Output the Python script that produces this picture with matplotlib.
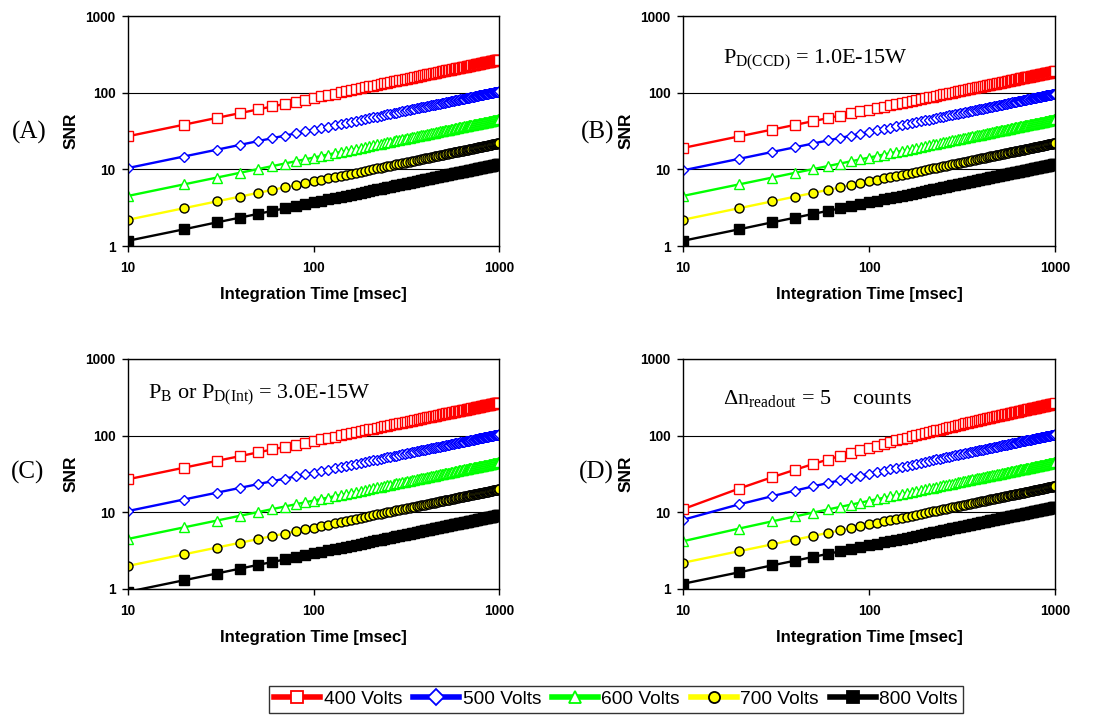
import numpy as np
import matplotlib
matplotlib.use('Agg')
import matplotlib.pyplot as plt
from matplotlib.ticker import NullLocator

# integration time grid [msec]
t_ms = np.arange(10, 1001, 10)

volt_labels = ['400 Volts', '500 Volts', '600 Volts', '700 Volts', '800 Volts']
panel_tags = ['(A)', '(B)', '(C)', '(D)']

# SNR curves, one value per integration time
snr_400_ac = [27.0, 38.2, 46.8, 54.0, 60.4, 66.1, 71.4, 76.4, 81.0, 85.4,
              89.6, 93.5, 97.4, 101.0, 104.6, 108.0, 111.3, 114.6, 117.7, 120.7,
              123.7, 126.6, 129.5, 132.3, 135.0, 137.7, 140.3, 142.9, 145.4, 147.9,
              150.3, 152.7, 155.1, 157.4, 159.7, 162.0, 164.2, 166.4, 168.6, 170.8,
              172.9, 175.0, 177.0, 179.1, 181.1, 183.1, 185.1, 187.1, 189.0, 190.9,
              192.8, 194.7, 196.6, 198.4, 200.2, 202.0, 203.9, 205.6, 207.4, 209.1,
              210.9, 212.6, 214.3, 216.0, 217.7, 219.3, 221.0, 222.6, 224.3, 225.9,
              227.5, 229.1, 230.7, 232.3, 233.8, 235.4, 236.9, 238.5, 240.0, 241.5,
              243.0, 244.5, 246.0, 247.5, 248.9, 250.4, 251.8, 253.3, 254.7, 256.1,
              257.6, 259.0, 260.4, 261.8, 263.2, 264.5, 265.9, 267.3, 268.7, 270.0]
snr_500_ac = [10.4, 14.7, 18.0, 20.8, 23.3, 25.5, 27.5, 29.4, 31.2, 32.9,
              34.5, 36.0, 37.5, 38.9, 40.3, 41.6, 42.9, 44.1, 45.3, 46.5,
              47.7, 48.8, 49.9, 50.9, 52.0, 53.0, 54.0, 55.0, 56.0, 57.0,
              57.9, 58.8, 59.7, 60.6, 61.5, 62.4, 63.3, 64.1, 64.9, 65.8,
              66.6, 67.4, 68.2, 69.0, 69.8, 70.5, 71.3, 72.1, 72.8, 73.5,
              74.3, 75.0, 75.7, 76.4, 77.1, 77.8, 78.5, 79.2, 79.9, 80.6,
              81.2, 81.9, 82.5, 83.2, 83.8, 84.5, 85.1, 85.8, 86.4, 87.0,
              87.6, 88.2, 88.9, 89.5, 90.1, 90.7, 91.3, 91.9, 92.4, 93.0,
              93.6, 94.2, 94.7, 95.3, 95.9, 96.4, 97.0, 97.6, 98.1, 98.7,
              99.2, 99.8, 100.3, 100.8, 101.4, 101.9, 102.4, 103.0, 103.5, 104.0]
snr_400_b = [19.0, 26.9, 32.9, 38.0, 42.5, 46.5, 50.3, 53.7, 57.0, 60.1,
             63.0, 65.8, 68.5, 71.1, 73.6, 76.0, 78.3, 80.6, 82.8, 85.0,
             87.1, 89.1, 91.1, 93.1, 95.0, 96.9, 98.7, 100.5, 102.3, 104.1,
             105.8, 107.5, 109.2, 110.8, 112.4, 114.0, 115.6, 117.1, 118.7, 120.2,
             121.7, 123.1, 124.6, 126.0, 127.5, 128.9, 130.3, 131.6, 133.0, 134.3,
             135.7, 137.0, 138.3, 139.6, 140.9, 142.2, 143.5, 144.7, 145.9, 147.2,
             148.4, 149.6, 150.8, 152.0, 153.2, 154.4, 155.5, 156.7, 157.8, 159.0,
             160.1, 161.2, 162.3, 163.4, 164.5, 165.6, 166.7, 167.8, 168.9, 169.9,
             171.0, 172.0, 173.1, 174.1, 175.2, 176.2, 177.2, 178.2, 179.2, 180.3,
             181.2, 182.2, 183.2, 184.2, 185.2, 186.2, 187.1, 188.1, 189.1, 190.0]
snr_500_b = [9.7, 13.7, 16.8, 19.4, 21.7, 23.8, 25.7, 27.4, 29.1, 30.7,
             32.2, 33.6, 35.0, 36.3, 37.6, 38.8, 40.0, 41.2, 42.3, 43.4,
             44.5, 45.5, 46.5, 47.5, 48.5, 49.5, 50.4, 51.3, 52.2, 53.1,
             54.0, 54.9, 55.7, 56.6, 57.4, 58.2, 59.0, 59.8, 60.6, 61.4,
             62.1, 62.9, 63.6, 64.3, 65.1, 65.8, 66.5, 67.2, 67.9, 68.6,
             69.3, 69.9, 70.6, 71.3, 71.9, 72.6, 73.2, 73.9, 74.5, 75.1,
             75.8, 76.4, 77.0, 77.6, 78.2, 78.8, 79.4, 80.0, 80.6, 81.2,
             81.7, 82.3, 82.9, 83.4, 84.0, 84.6, 85.1, 85.7, 86.2, 86.8,
             87.3, 87.8, 88.4, 88.9, 89.4, 90.0, 90.5, 91.0, 91.5, 92.0,
             92.5, 93.0, 93.5, 94.0, 94.5, 95.0, 95.5, 96.0, 96.5, 97.0]
snr_400_d = [11.0, 20.4, 28.6, 35.9, 42.6, 48.8, 54.5, 59.9, 64.9, 69.7,
             74.2, 78.5, 82.7, 86.7, 90.5, 94.2, 97.8, 101.3, 104.7, 107.9,
             111.1, 114.3, 117.3, 120.3, 123.2, 126.0, 128.8, 131.6, 134.2, 136.9,
             139.5, 142.0, 144.5, 147.0, 149.4, 151.8, 154.1, 156.4, 158.7, 161.0,
             163.2, 165.4, 167.5, 169.7, 171.8, 173.9, 175.9, 178.0, 180.0, 182.0,
             184.0, 185.9, 187.9, 189.8, 191.7, 193.6, 195.4, 197.3, 199.1, 200.9,
             202.7, 204.5, 206.2, 208.0, 209.7, 211.4, 213.2, 214.9, 216.5, 218.2,
             219.9, 221.5, 223.1, 224.8, 226.4, 228.0, 229.6, 231.1, 232.7, 234.3,
             235.8, 237.3, 238.9, 240.4, 241.9, 243.4, 244.9, 246.3, 247.8, 249.3,
             250.7, 252.2, 253.6, 255.0, 256.5, 257.9, 259.3, 260.7, 262.1, 263.5]
snr_500_d = [8.0, 12.7, 16.2, 19.2, 21.8, 24.1, 26.2, 28.2, 30.1, 31.8,
             33.4, 35.0, 36.5, 38.0, 39.4, 40.7, 42.0, 43.3, 44.5, 45.7,
             46.9, 48.0, 49.1, 50.2, 51.3, 52.3, 53.3, 54.3, 55.3, 56.3,
             57.2, 58.2, 59.1, 60.0, 60.9, 61.8, 62.6, 63.5, 64.3, 65.2,
             66.0, 66.8, 67.6, 68.4, 69.2, 70.0, 70.7, 71.5, 72.2, 73.0,
             73.7, 74.5, 75.2, 75.9, 76.6, 77.3, 78.0, 78.7, 79.4, 80.0,
             80.7, 81.4, 82.0, 82.7, 83.3, 84.0, 84.6, 85.3, 85.9, 86.5,
             87.1, 87.8, 88.4, 89.0, 89.6, 90.2, 90.8, 91.4, 92.0, 92.6,
             93.1, 93.7, 94.3, 94.9, 95.4, 96.0, 96.6, 97.1, 97.7, 98.2,
             98.8, 99.3, 99.9, 100.4, 100.9, 101.5, 102.0, 102.5, 103.0, 103.6]
snr_600_abc = [4.50, 6.36, 7.79, 9.00, 10.06, 11.02, 11.91, 12.73, 13.50, 14.23,
               14.93, 15.59, 16.23, 16.84, 17.43, 18.00, 18.55, 19.09, 19.62, 20.12,
               20.62, 21.11, 21.58, 22.05, 22.50, 22.95, 23.38, 23.81, 24.23, 24.65,
               25.06, 25.46, 25.85, 26.24, 26.62, 27.00, 27.37, 27.74, 28.10, 28.46,
               28.81, 29.16, 29.51, 29.85, 30.19, 30.52, 30.85, 31.18, 31.50, 31.82,
               32.13, 32.45, 32.76, 33.07, 33.37, 33.67, 33.98, 34.27, 34.56, 34.86,
               35.15, 35.43, 35.72, 36.00, 36.28, 36.56, 36.83, 37.11, 37.38, 37.65,
               37.92, 38.18, 38.45, 38.71, 38.97, 39.23, 39.49, 39.74, 40.00, 40.25,
               40.50, 40.75, 41.00, 41.24, 41.49, 41.73, 41.97, 42.21, 42.45, 42.69,
               42.93, 43.16, 43.40, 43.63, 43.86, 44.09, 44.32, 44.55, 44.77, 45.00]
snr_600_d = [4.20, 6.14, 7.61, 8.84, 9.92, 10.89, 11.78, 12.61, 13.39, 14.13,
             14.83, 15.49, 16.14, 16.75, 17.34, 17.92, 18.47, 19.01, 19.54, 20.05,
             20.55, 21.04, 21.51, 21.98, 22.43, 22.88, 23.32, 23.75, 24.17, 24.59,
             25.00, 25.40, 25.79, 26.18, 26.56, 26.94, 27.32, 27.69, 28.05, 28.41,
             28.76, 29.11, 29.46, 29.80, 30.14, 30.47, 30.80, 31.13, 31.45, 31.77,
             32.1, 32.4, 32.7, 33.0, 33.3, 33.6, 33.9, 34.2, 34.5, 34.8,
             35.1, 35.4, 35.7, 36.0, 36.2, 36.5, 36.8, 37.1, 37.3, 37.6,
             37.9, 38.1, 38.4, 38.7, 38.9, 39.2, 39.5, 39.7, 40.0, 40.2,
             40.5, 40.7, 41.0, 41.2, 41.5, 41.7, 41.9, 42.2, 42.4, 42.7,
             42.9, 43.1, 43.4, 43.6, 43.8, 44.1, 44.3, 44.5, 44.7, 45.0]
snr_700_abd = [2.20, 3.11, 3.81, 4.40, 4.92, 5.39, 5.82, 6.22, 6.60, 6.96,
               7.30, 7.62, 7.93, 8.23, 8.52, 8.80, 9.07, 9.33, 9.59, 9.84,
               10.08, 10.32, 10.55, 10.78, 11.00, 11.22, 11.43, 11.64, 11.85, 12.05,
               12.25, 12.45, 12.64, 12.83, 13.02, 13.20, 13.38, 13.56, 13.74, 13.91,
               14.09, 14.26, 14.43, 14.59, 14.76, 14.92, 15.08, 15.24, 15.40, 15.56,
               15.71, 15.86, 16.02, 16.17, 16.32, 16.46, 16.61, 16.76, 16.90, 17.04,
               17.18, 17.32, 17.46, 17.60, 17.74, 17.87, 18.01, 18.14, 18.28, 18.41,
               18.54, 18.67, 18.80, 18.92, 19.05, 19.18, 19.31, 19.43, 19.55, 19.68,
               19.80, 19.92, 20.04, 20.16, 20.28, 20.40, 20.52, 20.64, 20.75, 20.87,
               20.99, 21.10, 21.22, 21.33, 21.44, 21.56, 21.67, 21.78, 21.89, 22.00]
snr_700_c = [2.00, 2.83, 3.46, 4.00, 4.47, 4.90, 5.29, 5.66, 6.00, 6.32,
             6.63, 6.93, 7.21, 7.48, 7.75, 8.00, 8.25, 8.49, 8.72, 8.94,
             9.17, 9.38, 9.59, 9.80, 10.00, 10.20, 10.39, 10.58, 10.77, 10.95,
             11.14, 11.31, 11.49, 11.66, 11.83, 12.00, 12.17, 12.33, 12.49, 12.65,
             12.81, 12.96, 13.11, 13.27, 13.42, 13.56, 13.71, 13.86, 14.00, 14.14,
             14.28, 14.42, 14.56, 14.70, 14.83, 14.97, 15.10, 15.23, 15.36, 15.49,
             15.62, 15.75, 15.87, 16.00, 16.12, 16.25, 16.37, 16.49, 16.61, 16.73,
             16.85, 16.97, 17.09, 17.20, 17.32, 17.44, 17.55, 17.66, 17.78, 17.89,
             18.00, 18.11, 18.22, 18.33, 18.44, 18.55, 18.65, 18.76, 18.87, 18.97,
             19.08, 19.18, 19.29, 19.39, 19.49, 19.60, 19.70, 19.80, 19.90, 20.00]
snr_800_abd = [1.17, 1.65, 2.03, 2.34, 2.62, 2.87, 3.10, 3.31, 3.51, 3.70,
               3.88, 4.05, 4.22, 4.38, 4.53, 4.68, 4.82, 4.96, 5.10, 5.23,
               5.36, 5.49, 5.61, 5.73, 5.85, 5.97, 6.08, 6.19, 6.30, 6.41,
               6.51, 6.62, 6.72, 6.82, 6.92, 7.02, 7.12, 7.21, 7.31, 7.40,
               7.49, 7.58, 7.67, 7.76, 7.85, 7.94, 8.02, 8.11, 8.19, 8.27,
               8.36, 8.44, 8.52, 8.60, 8.68, 8.76, 8.83, 8.91, 8.99, 9.06,
               9.14, 9.21, 9.29, 9.36, 9.43, 9.51, 9.58, 9.65, 9.72, 9.79,
               9.86, 9.93, 10.00, 10.06, 10.13, 10.20, 10.27, 10.33, 10.40, 10.46,
               10.53, 10.59, 10.66, 10.72, 10.79, 10.85, 10.91, 10.98, 11.04, 11.10,
               11.16, 11.22, 11.28, 11.34, 11.40, 11.46, 11.52, 11.58, 11.64, 11.70]
snr_800_c = [0.92, 1.30, 1.59, 1.84, 2.06, 2.25, 2.43, 2.60, 2.76, 2.91,
             3.05, 3.19, 3.32, 3.44, 3.56, 3.68, 3.79, 3.90, 4.01, 4.11,
             4.22, 4.31, 4.41, 4.51, 4.60, 4.69, 4.78, 4.87, 4.95, 5.04,
             5.12, 5.20, 5.29, 5.36, 5.44, 5.52, 5.60, 5.67, 5.75, 5.82,
             5.89, 5.96, 6.03, 6.10, 6.17, 6.24, 6.31, 6.37, 6.44, 6.51,
             6.57, 6.63, 6.70, 6.76, 6.82, 6.88, 6.95, 7.01, 7.07, 7.13,
             7.19, 7.24, 7.30, 7.36, 7.42, 7.47, 7.53, 7.59, 7.64, 7.70,
             7.75, 7.81, 7.86, 7.91, 7.97, 8.02, 8.07, 8.13, 8.18, 8.23,
             8.28, 8.33, 8.38, 8.43, 8.48, 8.53, 8.58, 8.63, 8.68, 8.73,
             8.78, 8.82, 8.87, 8.92, 8.97, 9.01, 9.06, 9.11, 9.15, 9.20]

panel_series = [
    [snr_400_ac, snr_500_ac, snr_600_abc, snr_700_abd, snr_800_abd],
    [snr_400_b, snr_500_b, snr_600_abc, snr_700_abd, snr_800_abd],
    [snr_400_ac, snr_500_ac, snr_600_abc, snr_700_c, snr_800_c],
    [snr_400_d, snr_500_d, snr_600_d, snr_700_abd, snr_800_abd],
]
panel_notes = [
    None,
    r'P$_{\mathrm{D(CCD)}}$ = 1.0E-15W',
    r'P$_{\mathrm{B}}$ or P$_{\mathrm{D(Int)}}$ = 3.0E-15W',
    r'Δn$_{\mathrm{readout}}$ = 5    counts',
]

plt.rcParams['mathtext.fontset'] = 'custom'
plt.rcParams['mathtext.rm'] = 'Liberation Serif'
plt.rcParams['mathtext.it'] = 'Liberation Serif:italic'

styles = [
    dict(color='#ff0000', marker='s', ms=6.5, mfc='white', mec='#ff0000'),
    dict(color='#0000ff', marker='D', ms=5.2, mfc='white', mec='#0000ff'),
    dict(color='#00ff00', marker='^', ms=7, mfc='white', mec='#00ff00'),
    dict(color='#ffff00', marker='o', ms=6.5, mfc='#ffff00', mec='black'),
    dict(color='black', marker='s', ms=6.5, mfc='black', mec='black'),
]

W, H = 1099, 715
fig = plt.figure(figsize=(W / 100, H / 100), dpi=100)

# axes boxes in pixels: left, top, right, bottom
boxes = [(128, 16, 499, 246), (683, 16, 1055, 246),
         (128, 359, 499, 589), (683, 359, 1055, 589)]
tag_pos = [(29, 132), (598, 132), (28, 472), (596, 472)]
note_pos = [None, (0.108, 0.81), (0.054, 0.843), (0.108, 0.83)]

for i, (l, t, r, b) in enumerate(boxes):
    ax = fig.add_axes([l / W, 1 - b / H, (r - l) / W, (b - t) / H])
    for j, vals in enumerate(panel_series[i]):
        ax.plot(t_ms, vals, lw=1.7, mew=1.0, label=volt_labels[j], **styles[j])
    ax.set_xscale('log')
    ax.set_yscale('log')
    ax.set_xlim(10, 1000)
    ax.set_ylim(1, 1000)
    ax.set_xticks([10, 100, 1000])
    ax.set_xticklabels(['10', '100', '1000'])
    ax.set_yticks([1, 10, 100, 1000])
    ax.set_yticklabels(['1', '10', '100', '1000'])
    ax.xaxis.set_minor_locator(NullLocator())
    ax.yaxis.set_minor_locator(NullLocator())
    ax.yaxis.grid(True, color='black', lw=0.8)
    ax.set_axisbelow(True)
    for sp in ax.spines.values():
        sp.set_color('black')
        sp.set_linewidth(1.0)
    ax.tick_params(direction='out', length=4, width=1, pad=5, labelsize=9.8)
    for lab in ax.get_xticklabels() + ax.get_yticklabels():
        lab.set_fontweight('bold')
        lab.set_fontfamily('Liberation Sans')
    ax.tick_params(axis='x', pad=7)
    ax.set_xlabel('Integration Time [msec]', fontsize=12, fontweight='bold',
                  fontfamily='Liberation Sans')
    ax.xaxis.set_label_coords(0.5, -0.18)
    ax.set_ylabel('SNR', fontsize=12.5, fontweight='bold', fontfamily='Liberation Sans')
    ax.yaxis.set_label_coords(-0.133, 0.5)

    if panel_notes[i]:
        ax.text(note_pos[i][0], note_pos[i][1], panel_notes[i], transform=ax.transAxes,
                fontsize=16, fontfamily='Liberation Serif', va='center', ha='left')

    fig.text(tag_pos[i][0] / W, 1 - tag_pos[i][1] / H, panel_tags[i],
             fontsize=18, fontfamily='Liberation Serif', ha='center', va='center')

# legend with thick line handles
leg_handles = []
for j in range(5):
    st = dict(styles[j])
    st['ms'] = 8
    leg_handles.append(plt.Line2D([], [], lw=4, mew=1.3, **st))
leg = fig.legend(leg_handles, volt_labels, loc='center', ncol=5,
                 bbox_to_anchor=(616 / W, 1 - 699 / H), frameon=True, fancybox=False,
                 edgecolor='black', handlelength=2.4, handletextpad=0.2,
                 columnspacing=0.55, borderpad=0.25, borderaxespad=0,
                 prop={'family': 'Liberation Sans', 'size': 13.8})
leg.get_frame().set_linewidth(1.0)

fig.savefig('out.png', dpi=100)
